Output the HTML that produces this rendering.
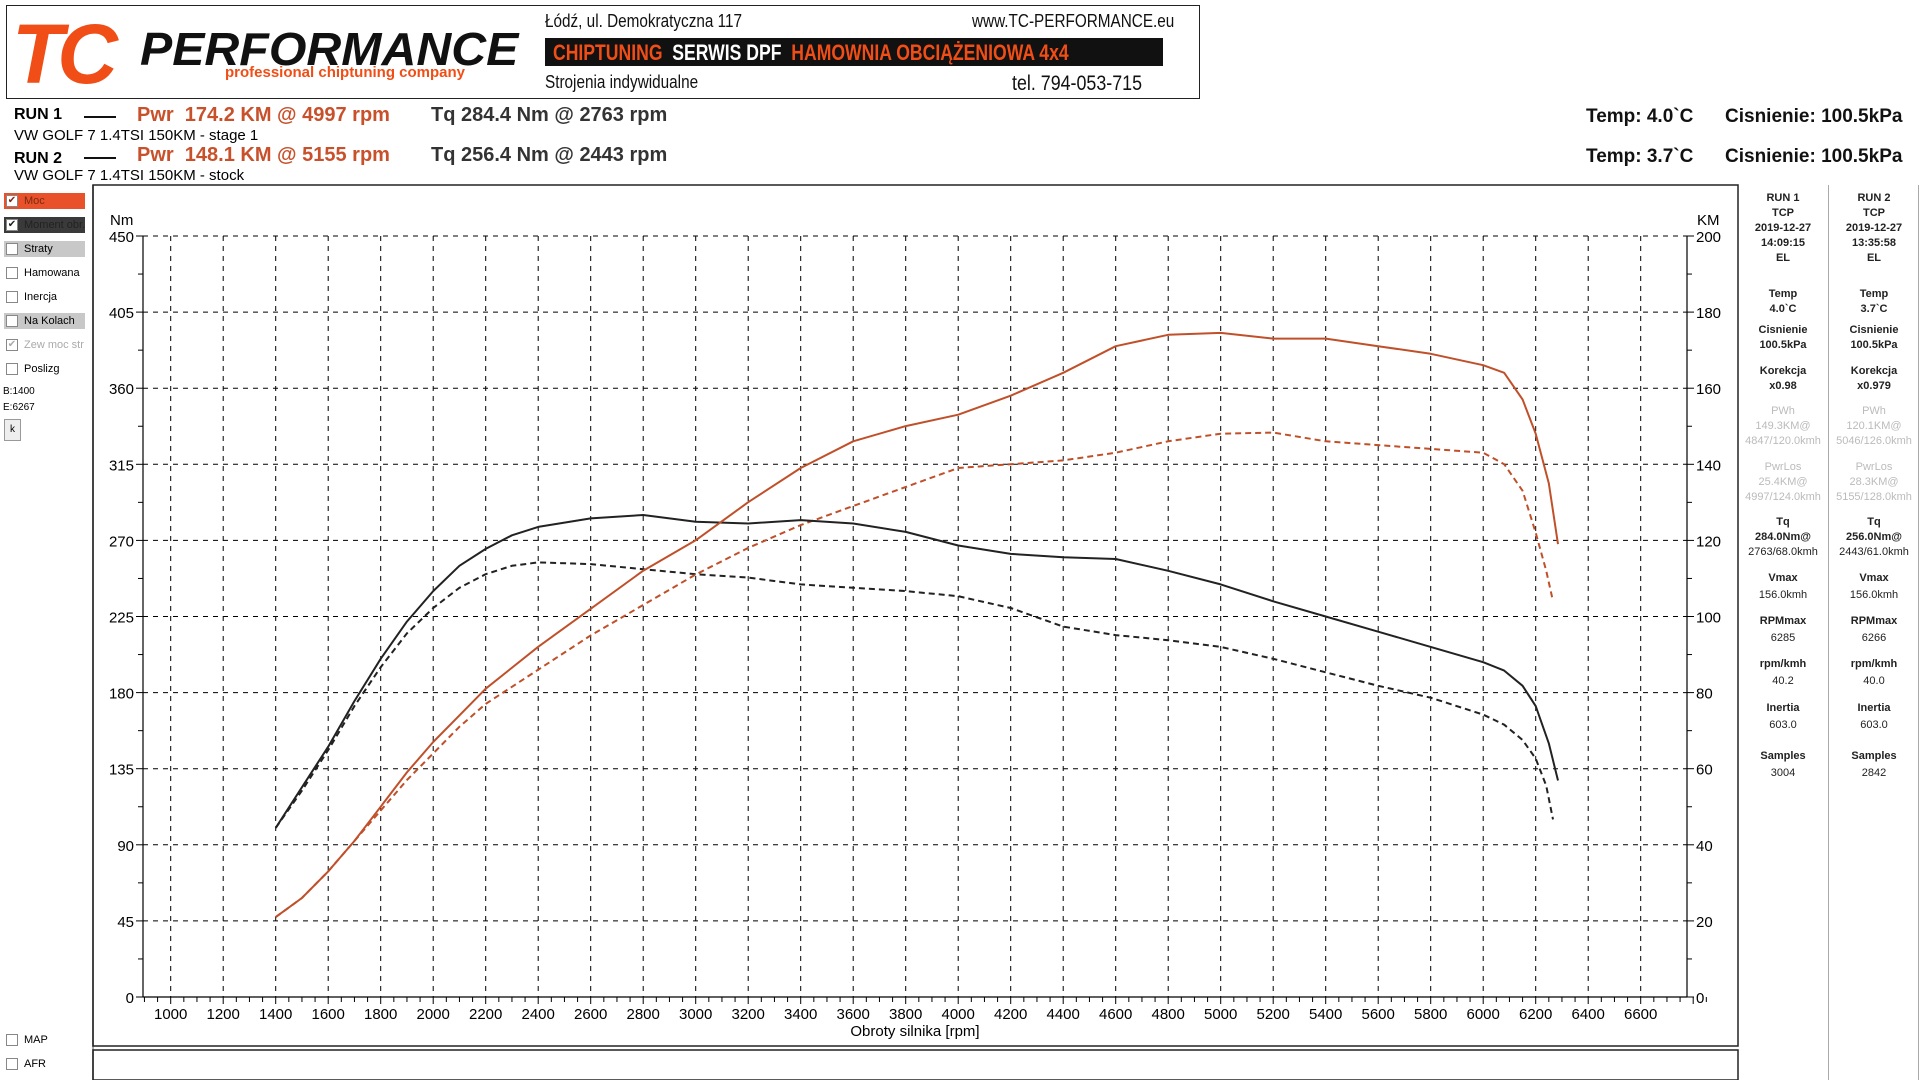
<!DOCTYPE html>
<html><head><meta charset="utf-8"><style>
body{margin:0;width:1920px;height:1080px;background:#fff;font-family:"Liberation Sans",sans-serif;overflow:hidden;position:relative}
.a{position:absolute;white-space:nowrap}
.cb{position:absolute;left:4px;width:81px;height:16px;font-size:11px;line-height:16px;white-space:nowrap;overflow:hidden}
.cb i{display:inline-block;width:10px;height:10px;border:1px solid #888;background:#fff;margin:2px 6px 0 2px;vertical-align:top;font-style:normal;font-size:10px;line-height:10px;text-align:center}
.sb{position:absolute;width:92px;text-align:center;font-size:11px;line-height:15px;font-weight:bold;color:#222}
.g{color:#bbb;font-weight:normal}
</style></head><body>
<div class="a" style="left:6px;top:5px;width:1192px;height:92px;border:1px solid #222"></div>
<div class="a" style="left:12px;top:6px;font:italic bold 84px 'Liberation Sans',sans-serif;color:#f04e16;letter-spacing:-6px">TC</div>
<div class="a" style="left:140px;top:22px;font:italic bold 46px 'Liberation Sans',sans-serif;color:#111;transform:scaleX(1.05);transform-origin:left">PERFORMANCE</div>
<div class="a" style="left:225px;top:64px;font:bold 15px 'Liberation Sans',sans-serif;color:#f04e16">professional chiptuning company</div>
<div class="a" style="left:545px;top:11px;font-size:18px;color:#111;transform:scaleX(0.85);transform-origin:left">Łódź, ul. Demokratyczna 117</div>
<div class="a" style="left:972px;top:11px;font-size:18px;color:#111;transform:scaleX(0.85);transform-origin:left">www.TC-PERFORMANCE.eu</div>
<div class="a" style="left:545px;top:38px;width:618px;height:28px;background:#111"></div>
<div class="a" style="left:553px;top:40px;font:bold 22px 'Liberation Sans',sans-serif;color:#f04e16;transform:scaleX(0.8);transform-origin:left">CHIPTUNING <span style="color:#fff">&nbsp;SERWIS DPF&nbsp;</span> HAMOWNIA OBCIĄŻENIOWA 4x4</div>
<div class="a" style="left:545px;top:72px;font-size:18px;color:#111;transform:scaleX(0.85);transform-origin:left">Strojenia indywidualne</div>
<div class="a" style="left:1012px;top:72px;font-size:21px;color:#111;transform:scaleX(0.85);transform-origin:left">tel. 794-053-715</div>

<div class="a" style="left:14px;top:106px;font:bold 16px 'Liberation Sans';">RUN 1</div>
<div class="a" style="left:84px;top:116px;width:32px;height:2px;background:#111"></div>
<div class="a" style="left:137px;top:104px;font:bold 20px 'Liberation Sans';color:#c8502a">Pwr&nbsp; 174.2 KM @ 4997 rpm</div>
<div class="a" style="left:431px;top:104px;font:bold 20px 'Liberation Sans';color:#333">Tq 284.4 Nm @ 2763 rpm</div>
<div class="a" style="left:14px;top:127px;font-size:15px">VW GOLF 7 1.4TSI 150KM - stage 1</div>
<div class="a" style="left:14px;top:150px;font:bold 16px 'Liberation Sans';">RUN 2</div>
<div class="a" style="left:84px;top:157px;width:32px;height:2px;background:#111"></div>
<div class="a" style="left:137px;top:144px;font:bold 20px 'Liberation Sans';color:#c8502a">Pwr&nbsp; 148.1 KM @ 5155 rpm</div>
<div class="a" style="left:431px;top:144px;font:bold 20px 'Liberation Sans';color:#333">Tq 256.4 Nm @ 2443 rpm</div>
<div class="a" style="left:14px;top:167px;font-size:15px">VW GOLF 7 1.4TSI 150KM - stock</div>
<div class="a" style="left:1586px;top:106px;font:bold 19px 'Liberation Sans';color:#111">Temp: 4.0`C</div>
<div class="a" style="left:1725px;top:106px;font:bold 19px 'Liberation Sans';color:#111">Cisnienie: 100.5kPa</div>
<div class="a" style="left:1586px;top:146px;font:bold 19px 'Liberation Sans';color:#111">Temp: 3.7`C</div>
<div class="a" style="left:1725px;top:146px;font:bold 19px 'Liberation Sans';color:#111">Cisnienie: 100.5kPa</div>

<div class="cb" style="top:193px;background:#e8512a;color:#7a2a10"><i>✔</i>Moc</div>
<div class="cb" style="top:217px;background:#3a3a3a;color:#222"><i>✔</i>Moment obr.</div>
<div class="cb" style="top:241px;background:#c8c8c8"><i></i>Straty</div>
<div class="cb" style="top:265px"><i></i>Hamowana</div>
<div class="cb" style="top:289px"><i></i>Inercja</div>
<div class="cb" style="top:313px;background:#c8c8c8"><i></i>Na Kolach</div>
<div class="cb" style="top:337px;color:#aaa"><i style="color:#aaa">✔</i>Zew moc str</div>
<div class="cb" style="top:361px"><i></i>Poslizg</div>
<div class="a" style="left:3px;top:386px;font-size:10px">B:1400</div>
<div class="a" style="left:3px;top:402px;font-size:10px">E:6267</div>
<div class="a" style="left:4px;top:419px;width:15px;height:20px;border:1px solid #999;background:#eee;font-size:10px;text-align:center;line-height:20px">k</div>
<div class="cb" style="top:1032px"><i></i>MAP</div>
<div class="cb" style="top:1056px"><i></i>AFR</div>
<div class="a" style="left:92px;top:185px;width:2px;height:895px;background:#aaa"></div>

<div class="sb" style="left:1737px;top:191px">RUN 1<br>TCP<br>2019-12-27<br>14:09:15<br>EL</div>
<div class="sb" style="left:1828px;top:191px">RUN 2<br>TCP<br>2019-12-27<br>13:35:58<br>EL</div>
<div class="a" style="left:1828px;top:185px;width:1px;height:895px;background:#aaa"></div>
<div class="a" style="left:1918px;top:185px;width:1px;height:895px;background:#aaa"></div>
<div id="sb"></div>

<svg id="s" width="1920" height="1080" style="position:absolute;left:0;top:0" xmlns="http://www.w3.org/2000/svg"></svg>
<script>
var h='';
function col(x,y,lines,cls){h+='<div class="sb '+(cls||'')+'" style="left:'+x+'px;top:'+y+'px">'+lines.join('<br>')+'</div>';}
col(1737,287,["Temp","4.0`C"]);col(1828,287,["Temp","3.7`C"]);
col(1737,323,["Cisnienie","100.5kPa"]);col(1828,323,["Cisnienie","100.5kPa"]);
col(1737,364,["Korekcja","x0.98"]);col(1828,364,["Korekcja","x0.979"]);
col(1737,404,["PWh","149.3KM@","4847/120.0kmh"],"g");col(1828,404,["PWh","120.1KM@","5046/126.0kmh"],"g");
col(1737,460,["PwrLos","25.4KM@","4997/124.0kmh"],"g");col(1828,460,["PwrLos","28.3KM@","5155/128.0kmh"],"g");
h+='<div class="sb" style="left:1737px;top:515px">Tq<br>284.0Nm@<br><span style="font-weight:normal">2763/68.0kmh</span></div>';
h+='<div class="sb" style="left:1828px;top:515px">Tq<br>256.0Nm@<br><span style="font-weight:normal">2443/61.0kmh</span></div>';
var rows=[["Vmax","156.0kmh","156.0kmh",571],["RPMmax","6285","6266",614],["rpm/kmh","40.2","40.0",657],["Inertia","603.0","603.0",701],["Samples","3004","2842",749]];
rows.forEach(function(r){h+='<div class="sb" style="left:1737px;top:'+r[3]+'px">'+r[0]+'<br><span style="font-weight:normal;line-height:19px">'+r[1]+'</span></div>';
h+='<div class="sb" style="left:1828px;top:'+r[3]+'px">'+r[0]+'<br><span style="font-weight:normal;line-height:19px">'+r[2]+'</span></div>';});
document.getElementById('sb').innerHTML=h;

function X(r){return 170.7+(r-1000)*0.2625;}
function YN(n){return 997-n*1.6911;}
function YK(k){return 997-k*3.806;}
var s='';
s+='<rect x="93" y="185" width="1645" height="861" fill="none" stroke="#222" stroke-width="1.5"/>';
s+='<rect x="93" y="1050" width="1645" height="30" fill="none" stroke="#222" stroke-width="1.5"/>';
for(var r=1000;r<=6600;r+=200){var x=X(r);s+='<line x1="'+x+'" y1="236" x2="'+x+'" y2="997" stroke="#000" stroke-dasharray="5,5"/>';
s+='<text x="'+x+'" y="1019" font-size="15" text-anchor="middle" font-family="Liberation Sans">'+r+'</text>';}
for(var n=45;n<=450;n+=45){var y=YN(n);s+='<line x1="143" y1="'+y+'" x2="1687" y2="'+y+'" stroke="#000" stroke-dasharray="5,5"/>';}
for(var i=0;i<=10;i++){var y=YN(i*45);s+='<line x1="136" y1="'+y+'" x2="143" y2="'+y+'" stroke="#000"/><line x1="1687" y1="'+y+'" x2="1694" y2="'+y+'" stroke="#000"/>';
s+='<text x="134" y="'+(y+6)+'" font-size="15" text-anchor="end" font-family="Liberation Sans">'+(i*45)+'</text>';
s+='<text x="1696" y="'+(y+6)+'" font-size="15" font-family="Liberation Sans">'+(i*20)+'</text>';
if(i<10){var y2=YN(i*45+22.5);s+='<line x1="138" y1="'+y2+'" x2="143" y2="'+y2+'" stroke="#000"/><line x1="1687" y1="'+y2+'" x2="1692" y2="'+y2+'" stroke="#000"/>';}}
for(var r=900;r<=6850;r+=50){var x=X(r);s+='<line x1="'+x+'" y1="997" x2="'+x+'" y2="'+(r%200==0?1004:1002)+'" stroke="#000"/>';}
s+='<line x1="143" y1="236" x2="143" y2="997" stroke="#000" stroke-width="1.2"/><line x1="1687" y1="236" x2="1687" y2="997" stroke="#000" stroke-width="1.2"/><line x1="143" y1="997" x2="1687" y2="997" stroke="#000" stroke-width="1.2"/>';
s+='<text x="110" y="225" font-size="15" font-family="Liberation Sans">Nm</text><text x="1697" y="225" font-size="15" font-family="Liberation Sans">KM</text>';
s+='<text x="915" y="1036" font-size="15" text-anchor="middle" font-family="Liberation Sans">Obroty silnika [rpm]</text>';
function pl(d,fy,col,dash){var p=d.map(function(a){return X(a[0]).toFixed(1)+','+fy(a[1]).toFixed(1)}).join(' ');
s+='<polyline points="'+p+'" fill="none" stroke="'+col+'" stroke-width="2" stroke-linejoin="round" '+(dash?'stroke-dasharray="6,4"':'')+'/>';}
var t1=[[1400,100],[1500,124],[1600,148],[1700,175],[1800,200],[1900,222],[2000,240],[2100,255],[2200,265],[2300,273],[2400,278],[2600,283],[2800,285],[3000,281],[3200,280],[3400,282],[3600,280],[3800,275],[4000,267],[4200,262],[4400,260],[4600,259],[4800,252],[5000,244],[5200,234],[5400,225],[5600,216],[5800,207],[6000,198],[6080,193],[6150,184],[6200,172],[6250,150],[6285,128]];
var t2=[[1400,100],[1500,122],[1600,146],[1700,172],[1800,195],[1900,215],[2000,230],[2100,242],[2200,250],[2300,255],[2400,257],[2600,256],[2800,253],[3000,250],[3200,248],[3400,244],[3600,242],[3800,240],[4000,237],[4200,230],[4400,219],[4600,214],[4800,211],[5000,207],[5200,200],[5400,192],[5600,184],[5800,177],[6000,167],[6080,161],[6150,152],[6200,141],[6240,125],[6266,105]];
var p1=[[1400,21],[1500,26],[1600,33],[1700,41],[1800,50],[1900,59],[2000,67],[2100,74],[2200,81],[2400,92],[2600,102],[2800,112],[3000,120],[3200,130],[3400,139],[3600,146],[3800,150],[4000,153],[4200,158],[4400,164],[4600,171],[4800,174],[5000,174.5],[5200,173],[5400,173],[5600,171],[5800,169],[6000,166],[6080,164],[6150,157],[6200,148],[6250,135],[6285,119]];
var p2=[[1400,21],[1500,26],[1600,33],[1700,41],[1800,49],[1900,57],[2000,64],[2100,71],[2200,77],[2400,86],[2600,95],[2800,103],[3000,111],[3200,118],[3400,124],[3600,129],[3800,134],[4000,139],[4200,140],[4400,141],[4600,143],[4800,146],[5000,148],[5200,148.3],[5400,146],[5600,145],[5800,144],[6000,143],[6080,140],[6150,133],[6200,122],[6240,112],[6266,104]];
pl(t2,YN,'#222',1);pl(p2,YK,'#c0502a',1);pl(t1,YN,'#222',0);pl(p1,YK,'#c0502a',0);
document.getElementById('s').innerHTML=s;
</script>
</body></html>
